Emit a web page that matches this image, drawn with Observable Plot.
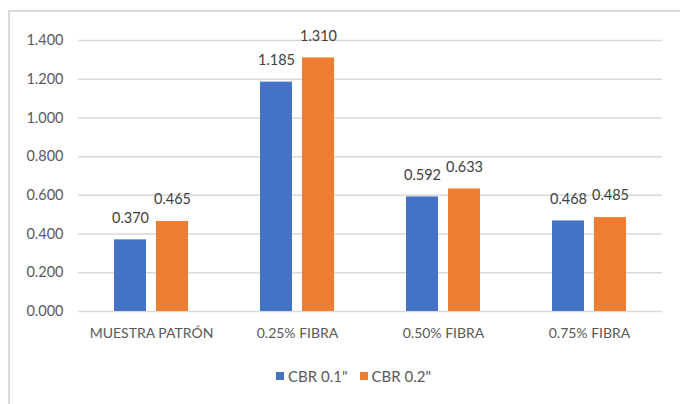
<!DOCTYPE html>
<html>
<head>
<meta charset="utf-8">
<script src="https://cdn.jsdelivr.net/npm/d3@7"></script>
<script src="https://cdn.jsdelivr.net/npm/@observablehq/plot@0.6"></script>
<style>
  html, body { margin: 0; padding: 0; background: #fff; }
  body { width: 680px; height: 404px; position: relative; overflow: hidden; font-family: Lato, "Open Sans", sans-serif; }
  #frameTop { position: absolute; left: 8px; top: 10px; width: 672px; height: 0; border-top: 2px solid #d9d9d9; }
  #frameLeft { position: absolute; left: 8px; top: 10px; width: 0; height: 394px; border-left: 2px solid #d9d9d9; }
  #chart { position: absolute; left: 0; top: 0; }
  #legend { position: absolute; left: 0; top: 367px; width: 680px; display: flex; justify-content: center; align-items: center; font-size: 15px; color: #595959; padding-left: 27px; box-sizing: border-box; }
  .item { display: flex; align-items: center; margin: 0 6px; }
  .sw { width: 8px; height: 8px; margin-right: 4px; }
</style>
</head>
<body>
<div id="frameTop"></div>
<div id="frameLeft"></div>
<div id="chart"></div>
<div id="legend"></div>
<script>
const categories = ["MUESTRA PATRÓN", "0.25% FIBRA", "0.50% FIBRA", "0.75% FIBRA"];
const series = ['CBR 0.1"', 'CBR 0.2"'];
const cbr01 = [0.370, 1.185, 0.592, 0.468];
const cbr02 = [0.465, 1.310, 0.633, 0.485];
const yTicks = [0, 0.2, 0.4, 0.6, 0.8, 1.0, 1.2, 1.4];
const colors = ["#4472C4", "#ED7D31"];

const data = [];
categories.forEach((c, i) => {
  data.push({cat: c, s: series[0], v: cbr01[i]});
  data.push({cat: c, s: series[1], v: cbr02[i]});
});

const fmt = d3.format(".3f");

const chart = Plot.plot({
  width: 680,
  height: 350,
  marginLeft: 78,
  marginRight: 18,
  marginTop: 40,
  marginBottom: 39,
  style: {fontFamily: "Lato, 'Open Sans', sans-serif", fontSize: "14px", color: "#595959", background: "transparent"},
  fx: {domain: categories, paddingInner: 0, paddingOuter: 0, label: null},
  x: {domain: series, paddingInner: 0.23, paddingOuter: 0.85, axis: null},
  y: {domain: [0, 1.4], label: null},
  color: {domain: series, range: colors},
  marks: [
    Plot.ruleY(yTicks, {stroke: "#d9d9d9", strokeWidth: 1.5, strokeOpacity: 1}),
    Plot.barY(data, {fx: "cat", x: "s", y: "v", fill: "s"}),
    Plot.text(data, {fx: "cat", x: "s", y: "v", text: d => fmt(d.v), dy: -22, fill: "#404040", fontSize: 14.5}),
    Plot.axisY(yTicks, {anchor: "left", tickSize: 0, tickPadding: 15, tickFormat: d => fmt(d), fill: "#595959", fontSize: 14.5, label: null}),
    Plot.axisFx({anchor: "bottom", tickSize: 0, tickPadding: 17, fill: "#595959", fontSize: 14, label: null})
  ]
});
document.getElementById("chart").appendChild(chart);

const legend = document.getElementById("legend");
series.forEach((s, i) => {
  const item = document.createElement("div");
  item.className = "item";
  const sw = document.createElement("span");
  sw.className = "sw";
  sw.style.background = colors[i];
  const t = document.createElement("span");
  t.textContent = s;
  item.appendChild(sw);
  item.appendChild(t);
  legend.appendChild(item);
});
</script>
</body>
</html>
